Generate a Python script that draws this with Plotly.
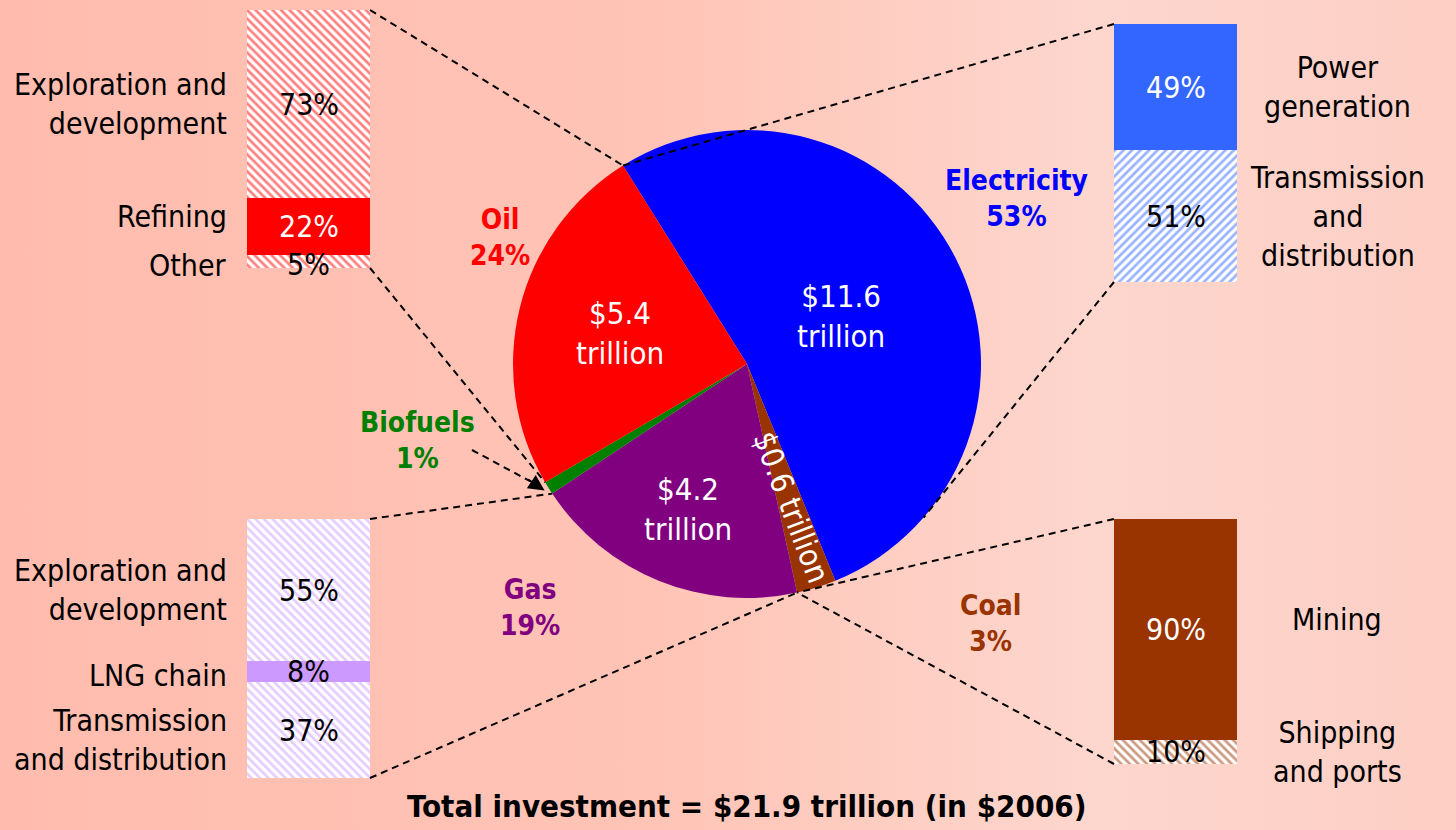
import math
import plotly.graph_objects as go

W, H = 1456, 830
FONT = "Liberation Sans Narrow, Arial Narrow, DejaVu Sans Condensed, sans-serif"

# ---------------- data ----------------
sectors = ["Electricity", "Coal", "Gas", "Biofuels", "Oil"]
investment = [11.6, 0.6, 4.2, 0.2, 5.4]          # $ trillion
shares = [53, 3, 19, 1, 24]                      # % of total
value_labels = ["$11.6<br>trillion", "$0.6 trillion", "$4.2<br>trillion", "", "$5.4<br>trillion"]
total_label = "Total investment = $21.9 trillion (in $2006)"

oil_parts = ["Exploration and<br>development", "Refining", "Other"]
oil_share = [73, 22, 5]
elec_parts = ["Power<br>generation", "Transmission<br>and<br>distribution"]
elec_share = [49, 51]
gas_parts = ["Exploration and<br>development", "LNG chain", "Transmission<br>and distribution"]
gas_share = [55, 8, 37]
coal_parts = ["Mining", "Shipping<br>and ports"]
coal_share = [90, 10]

# ---------------- styles ----------------
sector_colors = ["#0000FF", "#993300", "#800080", "#008000", "#FF0000"]
CX, CY, R = 747, 364, 234
ROT = -32
inner_r = [0.45, 0.64, 0.67, 0, 0.56]
inner_angle = [0, 69, 0, 0, 0]
outer_pos = [(1016, 198), (990, 623), (530, 607), (418, 440), (500, 237)]
LBL = 30


def px(x):
    return x / W


def py(y):
    return 1 - y / H


def pie_point(angle_deg, rf=1.0):
    a = math.radians(angle_deg)
    return CX + R * rf * math.sin(a), CY - R * rf * math.cos(a)


tot = sum(investment)
bounds = [ROT]
for v in investment:
    bounds.append(bounds[-1] + v / tot * 360)

fig = go.Figure()

# background gradient
fig.add_trace(go.Scatter(
    x=[0, 1, 1, 0, 0], y=[0, 0, 1, 1, 0], mode="lines", fill="toself",
    line=dict(width=0), hoverinfo="skip", showlegend=False,
    fillgradient=dict(type="horizontal",
                      colorscale=[[0, "#FFBCAE"], [0.45, "#FFC4B6"], [0.75, "#FDD6CD"], [1, "#FDCFC5"]]),
    xaxis="x", yaxis="y"))

bars = [
    dict(name="oil", parts=oil_parts, share=oil_share, box=(247, 10, 370, 268), side="left",
         color="#FF0000", solid=[False, True, False], tcol=["black", "white", "black"], shape="\\",
         lshift=[0, 10, -4], tshift=[0, 0, -3]),
    dict(name="elec", parts=elec_parts, share=elec_share, box=(1114, 24, 1237, 282), side="right",
         color="#3366FF", solid=[True, False], tcol=["white", "black"], shape="/",
         lshift=[0, 0], tshift=[0, 0]),
    dict(name="gas", parts=gas_parts, share=gas_share, box=(247, 519, 370, 778), side="left",
         color="#CC99FF", solid=[False, True, False], tcol=["black", "black", "black"], shape="\\",
         lshift=[0, -4, -10], tshift=[0, 0, 0]),
    dict(name="coal", parts=coal_parts, share=coal_share, box=(1114, 519, 1237, 764), side="right",
         color="#993300", solid=[True, False], tcol=["white", "black"], shape="\\",
         lshift=[10, 0], tshift=[0, 0]),
]

annotations = []
shapes = []
layout_axes = {}
for i, b in enumerate(bars):
    k = i + 2
    xa, ya = f"x{k}", f"y{k}"
    x0, y0, x1, y1 = b["box"]
    layout_axes[f"xaxis{k}"] = dict(domain=[px(x0), px(x1)], range=[-0.5, 0.5], visible=False,
                                    anchor=ya, fixedrange=True)
    layout_axes[f"yaxis{k}"] = dict(domain=[py(y1), py(y0)], range=[0, 100], visible=False,
                                    anchor=xa, fixedrange=True)
    n = len(b["parts"])
    cum = 100
    mids = []
    for j in range(n):
        top = cum
        cum -= b["share"][j]
        mids.append((top + cum) / 2)
    for j in reversed(range(n)):
        if b["solid"][j]:
            marker = dict(color=b["color"], line=dict(width=0))
        else:
            marker = dict(color="white", line=dict(width=0),
                          pattern=dict(shape=b["shape"], fgcolor=b["color"], bgcolor="white",
                                       size=6, solidity=0.45))
        fig.add_trace(go.Bar(x=[b["name"]], y=[b["share"][j]], marker=marker, xaxis=xa, yaxis=ya,
                             width=1, hoverinfo="skip", showlegend=False))
    for j in range(n):
        annotations.append(dict(xref=xa, yref=ya, x=b["name"], y=mids[j], text=f"{b['share'][j]}%",
                                xanchor="center", yanchor="middle", yshift=b["tshift"][j],
                                showarrow=False, font=dict(family=FONT, size=LBL, color=b["tcol"][j])))
        if b["side"] == "left":
            annotations.append(dict(xref="paper", yref=ya, x=px(x0 - 18), y=mids[j], xanchor="right",
                                    yanchor="middle", align="right", text=b["parts"][j], showarrow=False,
                                    yshift=b["lshift"][j],
                                    font=dict(family=FONT, size=LBL, color="black")))
        else:
            annotations.append(dict(xref="paper", yref=ya, x=px(x1 + 100), y=mids[j], xanchor="center",
                                    yanchor="middle", align="center", text=b["parts"][j], showarrow=False,
                                    yshift=b["lshift"][j],
                                    font=dict(family=FONT, size=LBL, color="black")))

# pie
fig.add_trace(go.Pie(
    values=investment, labels=sectors, sort=False, direction="clockwise", rotation=ROT,
    marker=dict(colors=sector_colors, line=dict(width=0)), textinfo="none", hoverinfo="skip",
    showlegend=False,
    domain=dict(x=[px(CX - R), px(CX + R)], y=[py(CY + R), py(CY - R)])))

for i in range(len(sectors)):
    if not value_labels[i]:
        continue
    mid = (bounds[i] + bounds[i + 1]) / 2
    lx, ly = pie_point(mid, inner_r[i])
    annotations.append(dict(xref="paper", yref="paper", x=px(lx), y=py(ly), text=value_labels[i],
                            xanchor="center", yanchor="middle",
                            showarrow=False, textangle=inner_angle[i],
                            font=dict(family=FONT, size=31, color="white")))

for i in range(len(sectors)):
    ox, oy = outer_pos[i]
    annotations.append(dict(xref="paper", yref="paper", x=px(ox), y=py(oy),
                            xanchor="center", yanchor="middle",
                            text=f"<b>{sectors[i]}<br>{shares[i]}%</b>", showarrow=False,
                            font=dict(family=FONT, size=28, color=sector_colors[i])))

annotations.append(dict(xref="paper", yref="paper", x=px(CX), y=py(806), text=f"<b>{total_label}</b>",
                        xanchor="center", yanchor="middle",
                        showarrow=False, font=dict(family=FONT, size=31, color="black")))


def dline(p, q):
    shapes.append(dict(type="line", xref="paper", yref="paper", x0=px(p[0]), y0=py(p[1]),
                       x1=px(q[0]), y1=py(q[1]), line=dict(color="black", width=2, dash="7px,5px")))


oil_b, elec_b, gas_b, coal_b = (b["box"] for b in bars)
p_elec_oil = pie_point(bounds[0])
p_oil_start = pie_point(bounds[4])
p_gas_bio = pie_point(bounds[3])
p_coal_gas = pie_point(bounds[2])
p_elec_low = pie_point(131)

dline((oil_b[2], oil_b[1]), p_elec_oil)
dline((oil_b[2], oil_b[3]), p_oil_start)
dline((elec_b[0], elec_b[1]), p_elec_oil)
dline((elec_b[0], elec_b[3]), p_elec_low)
dline((gas_b[2], gas_b[1]), p_gas_bio)
dline((gas_b[2], gas_b[3]), p_coal_gas)
dline((coal_b[0], coal_b[1]), p_coal_gas)
dline((coal_b[0], coal_b[3]), p_coal_gas)

bio_tip = pie_point((bounds[3] + bounds[4]) / 2, 1.02)
dline((472, 450), (bio_tip[0] - 14, bio_tip[1] - 9))
annotations.append(dict(xref="paper", yref="paper", axref="pixel", ayref="pixel",
                        x=px(bio_tip[0]), y=py(bio_tip[1]), ax=-18, ay=-12, text="",
                        showarrow=True, arrowhead=2, arrowsize=1.6, arrowwidth=2, arrowcolor="black",
                        standoff=0))

fig.update_layout(
    width=W, height=H, margin=dict(l=0, r=0, t=0, b=0),
    paper_bgcolor="#FFC4B6", plot_bgcolor="rgba(0,0,0,0)",
    barmode="stack", bargap=0, showlegend=False,
    xaxis=dict(domain=[0, 1], range=[0, 1], visible=False, fixedrange=True),
    yaxis=dict(domain=[0, 1], range=[0, 1], visible=False, fixedrange=True),
    annotations=annotations, shapes=shapes, **layout_axes)

fig.write_html("out.html", config={"displayModeBar": False},
               post_script="document.body.style.margin='0px';document.body.style.overflow='hidden';")
